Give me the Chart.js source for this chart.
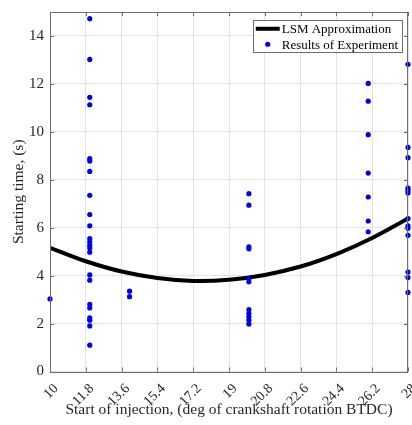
<!DOCTYPE html>
<html>
<head>
<meta charset="utf-8">
<title>Starting time vs start of injection</title>
<script src="https://cdn.jsdelivr.net/npm/chart.js@4.4.0/dist/chart.umd.min.js"></script>
<style>
    html, body { margin: 0; padding: 0; background: #ffffff; }
    #wrap { width: 412px; height: 425px; }
</style>
</head>
<body>
<div id="wrap"><canvas id="chart" width="412" height="425"></canvas></div>
<script>
// Injection angles (deg BTDC) at which the engine was tested
const injectionAngles = [10, 12, 14, 20, 26, 28];

// Starting times (s) measured at each angle
const startAt10 = [3.03];
const startAt12 = [14.72, 13.02, 11.44, 11.13, 8.88, 8.78, 8.35, 7.35, 6.55, 6.08, 5.55, 5.41, 5.27, 5.15, 4.98,
                   4.03, 3.81, 2.80, 2.65, 2.24, 2.14, 1.90, 1.10];
const startAt14 = [3.35, 3.12];
const startAt20 = [7.42, 6.94, 5.20, 5.12, 3.88, 3.74, 2.58, 2.42, 2.28, 2.14, 1.98];
const startAt26 = [12.02, 11.28, 9.88, 8.28, 7.28, 6.28, 5.83];
const startAt28 = [12.82, 9.35, 8.92, 7.65, 7.55, 7.45, 6.38, 6.08, 5.98, 5.68, 4.15, 3.92, 3.30];

// Least squares approximation
const lsmAngles = [10, 11.8, 13.6, 15.4, 17.2, 19, 20.8, 22.6, 24.4, 26.2, 28];
const lsmTimes = [5.16, 4.60, 4.17, 3.90, 3.78, 3.83, 4.03, 4.38, 4.90, 5.57, 6.38];

// Axis ticks
const xTicks = [10, 11.8, 13.6, 15.4, 17.2, 19, 20.8, 22.6, 24.4, 26.2, 28];
const yTicks = [0, 2, 4, 6, 8, 10, 12, 14];

const SERIF = '"Liberation Serif", "Times New Roman", serif';
const TEXT_COLOR = '#262626';
const FRAME_COLOR = '#6e6e6e';

// Build scatter points from the per-angle lists
function buildExperimentPoints() {
    const groups = [startAt10, startAt12, startAt14, startAt20, startAt26, startAt28];
    const points = [];
    groups.forEach((times, i) => {
        times.forEach(t => points.push({ x: injectionAngles[i], y: t }));
    });
    return points;
}

const lsmPoints = lsmAngles.map((a, i) => ({ x: a, y: lsmTimes[i] }));

// Box around the plot with small inward tick marks on every side
const frameBox = {
    id: 'frameBox',
    afterDatasetsDraw(chart) {
        const { ctx, chartArea: a, scales } = chart;
        ctx.save();
        ctx.strokeStyle = FRAME_COLOR;
        ctx.lineWidth = 1;
        ctx.strokeRect(Math.round(a.left) + 0.5, Math.round(a.top) + 0.5,
            Math.round(a.right - a.left) - 1, Math.round(a.bottom - a.top));
        const len = 4;
        ctx.beginPath();
        xTicks.forEach(v => {
            const px = Math.round(scales.x.getPixelForValue(v)) + 0.5;
            ctx.moveTo(px, a.bottom); ctx.lineTo(px, a.bottom - len);
            ctx.moveTo(px, a.top); ctx.lineTo(px, a.top + len);
        });
        yTicks.forEach(v => {
            const py = Math.round(scales.y.getPixelForValue(v)) + 0.5;
            ctx.moveTo(a.left, py); ctx.lineTo(a.left + len, py);
            ctx.moveTo(a.right, py); ctx.lineTo(a.right - len, py);
        });
        ctx.stroke();
        ctx.restore();
    }
};

// Legend box in the upper right corner of the plot
const boxedLegend = {
    id: 'boxedLegend',
    afterDraw(chart) {
        const { ctx, chartArea: a } = chart;
        const sets = chart.data.datasets;
        ctx.save();
        ctx.font = '13px ' + SERIF;
        const textW = Math.max(...sets.map(d => ctx.measureText(d.label).width));
        const right = a.right - 6;
        const top = a.top + 8;
        const rowH = 15.5;
        const sampleW = 24;
        const w = sampleW + 5 + textW + 4;
        const h = rowH * sets.length + 1;
        const left = right - w;
        ctx.fillStyle = '#ffffff';
        ctx.fillRect(left, top, w, h);
        ctx.strokeStyle = FRAME_COLOR;
        ctx.lineWidth = 1;
        ctx.strokeRect(Math.round(left) + 0.5, Math.round(top) + 0.5, Math.round(w), Math.round(h));
        sets.forEach((d, i) => {
            const cy = top + 1 + rowH * i + rowH / 2;
            if (d.showLine) {
                ctx.strokeStyle = d.borderColor;
                ctx.lineWidth = d.borderWidth;
                ctx.beginPath();
                ctx.moveTo(left + 3, cy);
                ctx.lineTo(left + 3 + sampleW, cy);
                ctx.stroke();
            } else {
                ctx.fillStyle = d.backgroundColor;
                ctx.beginPath();
                ctx.arc(left + 3 + sampleW / 2, cy, d.pointRadius, 0, Math.PI * 2);
                ctx.fill();
            }
            ctx.fillStyle = '#000000';
            ctx.textBaseline = 'middle';
            ctx.textAlign = 'left';
            ctx.fillText(d.label, left + sampleW + 5, cy + 1);
        });
        ctx.restore();
    }
};

new Chart(document.getElementById('chart'), {
    type: 'scatter',
    data: {
        datasets: [
            {
                label: 'LSM Approximation',
                data: lsmPoints,
                showLine: true,
                borderColor: '#000000',
                backgroundColor: '#000000',
                borderWidth: 4,
                pointRadius: 0,
                tension: 0.4,
                order: 1
            },
            {
                label: 'Results of Experiment',
                data: buildExperimentPoints(),
                showLine: false,
                backgroundColor: '#0000e6',
                borderColor: '#0000e6',
                borderWidth: 0,
                pointRadius: 2.6,
                clip: false,
                order: 0
            }
        ]
    },
    options: {
        responsive: false,
        animation: false,
        devicePixelRatio: 1,
        layout: { padding: { top: 12, right: 3, left: 0, bottom: 0 } },
        plugins: {
            legend: { display: false },
            tooltip: { enabled: false }
        },
        scales: {
            x: {
                type: 'linear',
                min: 10,
                max: 28,
                afterBuildTicks: scale => { scale.ticks = xTicks.map(v => ({ value: v })); },
                afterFit: scale => {
                    scale.height = 53.5;
                    scale.paddingLeft = 0;
                    scale.paddingRight = 0;
                },
                grid: { color: '#e3e3e3', lineWidth: 1, drawTicks: false },
                border: { display: false },
                ticks: {
                    minRotation: 45,
                    maxRotation: 45,
                    autoSkip: false,
                    padding: 9,
                    labelOffset: 6,
                    color: TEXT_COLOR,
                    font: { family: SERIF, size: 14 },
                    callback: v => String(v)
                },
                title: {
                    display: true,
                    text: 'Start of injection, (deg of crankshaft rotation BTDC)',
                    color: TEXT_COLOR,
                    font: { family: SERIF, size: 15.5 },
                    padding: { top: 0, bottom: 6 }
                }
            },
            y: {
                type: 'linear',
                min: 0,
                max: 15,
                afterBuildTicks: scale => { scale.ticks = yTicks.map(v => ({ value: v })); },
                afterFit: scale => {
                    scale.width = 50;
                    scale.paddingTop = 0;
                    scale.paddingBottom = 0;
                },
                grid: { color: '#e3e3e3', lineWidth: 1, drawTicks: false },
                border: { display: false },
                ticks: {
                    padding: 6,
                    color: TEXT_COLOR,
                    font: { family: SERIF, size: 15 },
                    callback: v => String(v)
                },
                title: {
                    display: true,
                    text: 'Starting time, (s)',
                    color: TEXT_COLOR,
                    font: { family: SERIF, size: 15.5 },
                    padding: { top: 9.5, bottom: 0 }
                }
            }
        }
    },
    plugins: [frameBox, boxedLegend]
});
</script>
</body>
</html>
